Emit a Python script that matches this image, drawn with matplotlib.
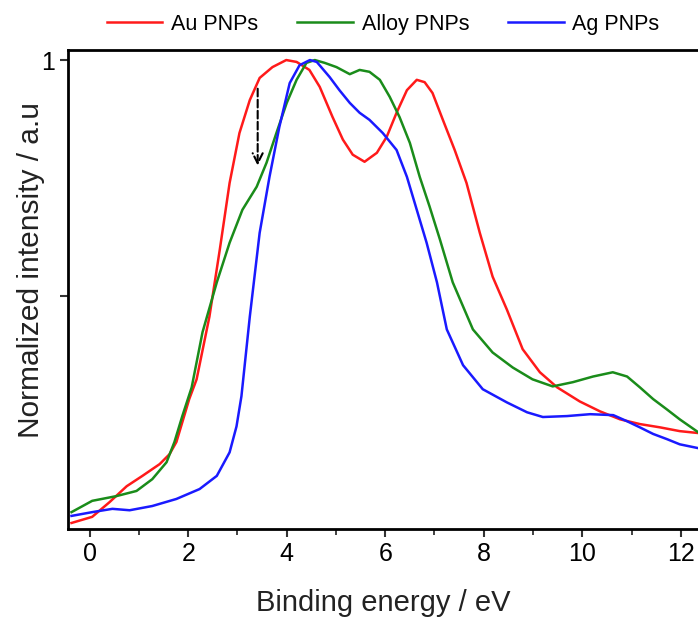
import numpy as np
import matplotlib.pyplot as plt

plt.rcParams['font.family'] = ['Liberation Sans', 'DejaVu Sans']

# Au PNPs
au_x = [-0.37, 0.05, 0.40, 0.75, 1.07, 1.42, 1.62, 1.76, 1.88, 2.02, 2.17, 2.43,
        2.64, 2.84, 3.04, 3.25, 3.45, 3.71, 3.99, 4.20, 4.46, 4.67, 4.93, 5.14,
        5.34, 5.58, 5.83, 6.03, 6.23, 6.44, 6.64, 6.80, 6.96, 7.17, 7.41, 7.65,
        7.92, 8.18, 8.47, 8.79, 9.14, 9.49, 9.95, 10.36, 10.77, 11.17, 11.58,
        11.98, 12.35]
au_y = [0.017, 0.030, 0.061, 0.095, 0.117, 0.142, 0.163, 0.189, 0.231, 0.280,
        0.322, 0.455, 0.597, 0.739, 0.845, 0.915, 0.962, 0.985, 1.000, 0.996,
        0.979, 0.943, 0.879, 0.831, 0.799, 0.784, 0.803, 0.837, 0.888, 0.936,
        0.958, 0.953, 0.930, 0.873, 0.809, 0.739, 0.633, 0.540, 0.470, 0.386,
        0.337, 0.305, 0.275, 0.254, 0.237, 0.227, 0.220, 0.212, 0.208]

# Alloy PNPs
alloy_x = [-0.37, 0.05, 0.54, 0.95, 1.27, 1.56, 1.72, 1.88, 2.07, 2.29, 2.58,
           2.84, 3.10, 3.39, 3.59, 3.79, 4.00, 4.20, 4.40, 4.57, 4.77, 5.01,
           5.28, 5.48, 5.68, 5.89, 6.09, 6.29, 6.50, 6.70, 6.90, 7.11, 7.37,
           7.78, 8.18, 8.59, 8.99, 9.40, 9.81, 10.22, 10.62, 10.91, 11.17,
           11.44, 11.72, 11.98, 12.35]
alloy_y = [0.040, 0.064, 0.074, 0.085, 0.110, 0.146, 0.189, 0.244, 0.305, 0.422,
           0.528, 0.612, 0.682, 0.731, 0.782, 0.845, 0.909, 0.958, 0.994, 1.000,
           0.994, 0.985, 0.970, 0.979, 0.975, 0.958, 0.922, 0.879, 0.824, 0.752,
           0.689, 0.619, 0.528, 0.428, 0.379, 0.347, 0.322, 0.307, 0.316, 0.328,
           0.337, 0.328, 0.305, 0.280, 0.258, 0.237, 0.210]

# Ag PNPs
ag_x = [-0.37, 0.05, 0.46, 0.81, 1.27, 1.76, 2.23, 2.58, 2.84, 2.98, 3.08, 3.25,
        3.45, 3.65, 3.85, 4.06, 4.26, 4.47, 4.61, 4.87, 5.07, 5.28, 5.48, 5.68,
        5.95, 6.23, 6.44, 6.64, 6.84, 7.05, 7.25, 7.58, 7.98, 8.47, 8.88, 9.20,
        9.69, 10.16, 10.63, 10.91, 11.17, 11.44, 11.72, 11.98, 12.35]
ag_y = [0.032, 0.040, 0.047, 0.044, 0.053, 0.068, 0.089, 0.117, 0.167, 0.222,
        0.286, 0.455, 0.633, 0.752, 0.858, 0.951, 0.989, 1.000, 0.996, 0.964,
        0.936, 0.909, 0.888, 0.873, 0.845, 0.809, 0.752, 0.682, 0.612, 0.528,
        0.428, 0.352, 0.301, 0.273, 0.252, 0.242, 0.244, 0.248, 0.246, 0.233,
        0.220, 0.206, 0.195, 0.184, 0.176]

fig = plt.figure(figsize=(6.98, 6.21), dpi=100)
ax = fig.add_axes([0.0975, 0.148, 0.9025, 0.772])

ax.plot(au_x, au_y, color='#ff1a1a', lw=1.8, label='Au PNPs')
ax.plot(alloy_x, alloy_y, color='#1a8c1a', lw=1.8, label='Alloy PNPs')
ax.plot(ag_x, ag_y, color='#1a1aff', lw=1.8, label='Ag PNPs')

ax.annotate('', xy=(3.41, 0.770), xytext=(3.41, 0.945),
            arrowprops=dict(arrowstyle='->', color='black', lw=1.5,
                            linestyle='--', mutation_scale=18))

ax.set_xlim(-0.44, 12.35)
ax.set_ylim(0.004, 1.022)
ax.set_xticks([0, 2, 4, 6, 8, 10, 12])
ax.set_xticks([1, 3, 5, 7, 9, 11], minor=True)
ax.set_yticks([0.5, 1])
ax.set_yticklabels(['', '1'])
ax.tick_params(axis='both', which='major', direction='out', length=6,
               width=1.5, labelsize=18, color='#333333')
ax.tick_params(axis='x', which='minor', direction='out', length=4, width=1.3,
               color='#333333')
for side in ['left', 'bottom', 'top']:
    ax.spines[side].set_linewidth(2)
ax.spines['right'].set_visible(False)

ax.set_xlabel('Binding energy / eV', fontsize=21, color='#222222', labelpad=16)
ax.set_ylabel('Normalized intensity / a.u', fontsize=21.5, color='#222222')
ax.yaxis.set_label_coords(-0.037, 0.54)

ax.legend(loc='lower center', bbox_to_anchor=(0.5, 1.0), ncol=3,
          frameon=False, fontsize=15.5, handlelength=2.6, columnspacing=1.8,
          handletextpad=0.4, borderaxespad=0.3)

fig.savefig('out.png', dpi=100)
